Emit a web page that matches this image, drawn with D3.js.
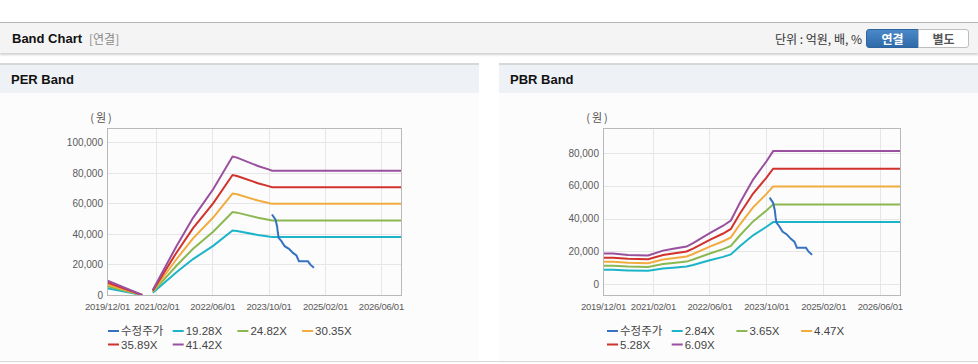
<!DOCTYPE html>
<html>
<head>
<meta charset="utf-8">
<title>Band Chart</title>
<script src="https://d3js.org/d3.v7.min.js"></script>
<style>
  body { margin: 0; width: 978px; height: 364px; position: relative; background: #fff;
         font-family: "Liberation Sans", "Noto Sans CJK KR", sans-serif; overflow: hidden; }
  .top { position: absolute; left: 0; top: 22px; width: 978px; height: 30px; background: #f4f4f4;
         border-top: 1px solid #b5b5b5; box-shadow: 0 2px 2px rgba(0,0,0,0.18); }
  .top .title { position: absolute; left: 12px; top: 8px; font-size: 13px; font-weight: bold; color: #111; }
  .top .sub { position: absolute; left: 89px; top: 8px; font-size: 12px; color: #8a8a8a;
              font-family: "Noto Sans CJK KR", sans-serif; line-height: 16px; }
  .top .unit { position: absolute; right: 116px; top: 8px; font-size: 12px; color: #333;
               font-family: "Noto Sans CJK KR", sans-serif; line-height: 16px; }
  .btns { position: absolute; left: 866px; top: 6px; height: 19px; }
  .btns span { position: absolute; top: 0; height: 17px; line-height: 17px; text-align: center;
               font-size: 12px; font-weight: bold; font-family: "Noto Sans CJK KR", sans-serif; }
  .btns .on { left: 0; width: 51px; background: linear-gradient(#4a88c8, #2f6aa8); color: #fff;
              border: 1px solid #2d64a0; border-radius: 3px 0 0 3px; }
  .btns .off { left: 52px; width: 49px; background: #fff; color: #555;
               border: 1px solid #bdbdbd; border-radius: 0 3px 3px 0; }
  .panel { position: absolute; top: 63px; width: 479px; height: 298px; background: #fcfcfc;
           border-top: 2px solid #d7d7d7; }
  .panel .ph { height: 28px; background: #eef2f7; font-size: 13px; font-weight: bold; color: #111;
               padding-left: 11px; line-height: 29px; }
  .panel svg { position: absolute; left: 0; top: 28px; }
  .bottom { position: absolute; left: 0; top: 361px; width: 978px; height: 1px; background: #d8d8d8; }
  .tick text { font-family: "Liberation Sans", sans-serif; }
</style>
</head>
<body>
<div class="top">
  <span class="title">Band Chart</span>
  <span class="sub">[연결]</span>
  <span class="unit">단위 : 억원, 배, %</span>
  <div class="btns"><span class="on">연결</span><span class="off">별도</span></div>
</div>
<div class="panel" id="per" style="left:0"><div class="ph">PER Band</div></div>
<div class="panel" id="pbr" style="left:499px"><div class="ph">PBR Band</div></div>
<div class="bottom"></div>

<script>
// x axis tick labels (shared)
const tickDates = ['2019/12/01', '2021/02/01', '2022/06/01', '2023/10/01', '2025/02/01', '2026/06/01']

// 수정주가 (adjusted price), same on both charts
const priceDates = ['2023-10-31', '2023-11-30', '2023-12-14', '2023-12-21', '2023-12-28', '2024-01-21',
  '2024-02-18', '2024-03-26', '2024-04-30', '2024-05-30', '2024-06-21', '2024-09-07', '2024-09-28', '2024-10-29']
const priceValues = [52800, 49500, 45100, 40800, 37500, 35300, 32000, 30300, 27600, 25900, 22100, 22100, 19900, 17800]

// PER band (null = gap)
const perLabels = ['19.28X', '24.82X', '30.35X', '35.89X', '41.42X']
const perDates = ['2019-12-01', '2020-10-01', '2020-11-15', '2021-01-01', '2021-07-25', '2021-12-16', '2022-06-08',
  '2022-11-23', '2023-01-01', '2023-07-01', '2023-10-01', '2023-11-01', '2026-12-01']
const per1928 = [4400, 0, null, 1550, 14900, 23550, 32250, 42250, 41950, 39350, 38350, 37950, 37950]
const per2482 = [5700, 0, null, 2000, 19200, 30350, 41500, 54400, 54000, 50700, 49350, 48850, 48850]
const per3035 = [6950, 0, null, 2450, 23450, 37100, 50800, 66500, 66000, 61950, 60350, 59750, 59750]
const per3589 = [8200, 0, null, 2850, 27750, 43850, 60050, 78650, 78050, 73300, 71400, 70650, 70650]
const per4142 = [9500, 0, null, 3300, 32000, 50600, 69300, 90800, 90100, 84600, 82400, 81500, 81500]

// PBR band
const pbrLabels = ['2.84X', '3.65X', '4.47X', '5.28X', '6.09X']
const pbrDates = ['2019-12-01', '2020-02-25', '2020-07-03', '2020-12-22', '2021-04-29', '2021-07-25', '2021-11-17',
  '2022-01-12', '2022-06-04', '2022-09-27', '2022-12-02', '2023-02-17', '2023-06-11', '2023-10-04', '2023-11-30', '2026-12-01']
const pbr284 = [8650, 8650, 8300, 8100, 9500, 10000, 10700, 11650, 14500, 16600, 18100, 23100, 29750, 35000, 37850, 37850]
const pbr365 = [11150, 11150, 10650, 10450, 12250, 12900, 13700, 15000, 18650, 21350, 23250, 29650, 38250, 44950, 48650, 48650]
const pbr447 = [13650, 13650, 13050, 12750, 15000, 15800, 16800, 18350, 22850, 26150, 28500, 36350, 46850, 55050, 59600, 59600]
const pbr528 = [16100, 16100, 15450, 15100, 17700, 18650, 19850, 21650, 26950, 30850, 33650, 42900, 55300, 65000, 70400, 70400]
const pbr609 = [18600, 18600, 17800, 17400, 20400, 21500, 22900, 25000, 31100, 35600, 38800, 49500, 63800, 75000, 81200, 81200]

const colors = ['#3572c0', '#1cb4c8', '#8bb851', '#f1ac3f', '#d1322c', '#9a4f9f']
const parseDay = d3.timeParse('%Y-%m-%d')
const parseTick = d3.timeParse('%Y/%m/%d')

function drawBand(panelId, cfg) {
    const w = 479, h = 270
    const left = cfg.left, top = 35, pw = cfg.width, ph = 167

    const svg = d3.select('#' + panelId).append('svg')
        .attr('width', w)
        .attr('height', h)

    const x = d3.scaleTime()
        .domain([parseDay('2019-12-01'), parseDay('2026-12-01')])
        .range([left, left + pw])
    const y = d3.scaleLinear()
        .domain(cfg.yDomain)
        .range([top + ph, top])

    // grid
    svg.append('g')
        .selectAll('line')
        .data(cfg.yTicks)
        .enter()
        .append('line')
        .attr('x1', left).attr('x2', left + pw)
        .attr('y1', d => Math.round(y(d)) + 0.5).attr('y2', d => Math.round(y(d)) + 0.5)
        .attr('stroke', '#e6e6e6')
    svg.append('g')
        .selectAll('line')
        .data(tickDates)
        .enter()
        .append('line')
        .attr('x1', d => Math.round(x(parseTick(d))) + 0.5).attr('x2', d => Math.round(x(parseTick(d))) + 0.5)
        .attr('y1', top).attr('y2', top + ph)
        .attr('stroke', '#e6e6e6')

    // axes (labels only)
    const yAxis = svg.append('g')
        .attr('transform', `translate(${left},0)`)
        .call(d3.axisLeft(y).tickValues(cfg.yTicks).tickSize(0).tickPadding(4).tickFormat(d3.format(',')))
    yAxis.select('.domain').remove()
    yAxis.selectAll('text').attr('fill', '#5a5a5a').style('font-size', '10px')

    const xAxis = svg.append('g')
        .attr('transform', `translate(0,${top + ph})`)
        .call(d3.axisBottom(x).tickValues(tickDates.map(parseTick)).tickSize(0).tickPadding(8)
            .tickFormat(d3.timeFormat('%Y/%m/%d')))
    xAxis.select('.domain').remove()
    xAxis.selectAll('text').attr('fill', '#5a5a5a').style('font-size', '9.5px').style('letter-spacing', '-0.25px')

    svg.append('text')
        .attr('x', left - 5)
        .attr('y', 29)
        .attr('text-anchor', 'middle')
        .attr('fill', '#555')
        .style('font-size', '11px')
        .style('letter-spacing', '2px')
        .style('font-family', '"Noto Sans CJK KR", sans-serif')
        .text('(원)')

    // clip
    svg.append('clipPath').attr('id', 'clip-' + panelId)
        .append('rect').attr('x', left).attr('y', top).attr('width', pw).attr('height', ph)

    const line = d3.line()
        .defined(d => d.v != null)
        .x(d => x(d.t))
        .y(d => y(d.v))

    const plot = svg.append('g').attr('clip-path', `url(#clip-${panelId})`)

    cfg.bands.forEach((vals, i) => {
        const pts = cfg.dates.map((d, j) => ({ t: parseDay(d), v: vals[j] }))
        plot.append('path')
            .datum(pts)
            .attr('fill', 'none')
            .attr('stroke', colors[i + 1])
            .attr('stroke-width', 2)
            .attr('d', line)
    })

    const pricePts = priceDates.map((d, j) => ({ t: parseDay(d), v: priceValues[j] }))
    plot.append('path')
        .datum(pricePts)
        .attr('fill', 'none')
        .attr('stroke', colors[0])
        .attr('stroke-width', 2)
        .attr('d', line)

    // plot border
    svg.append('rect')
        .attr('x', left + 0.5).attr('y', top + 0.5)
        .attr('width', pw - 1).attr('height', ph)
        .attr('fill', 'none')
        .attr('stroke', '#b9b9b9')

    // legend
    const names = ['수정주가'].concat(cfg.labels)
    const legend = svg.append('g').attr('class', 'legend')
    const item = legend.selectAll('g')
        .data(names)
        .enter()
        .append('g')
        .attr('transform', (d, i) => `translate(${108 + (i % 4) * 64.7},${i < 4 ? 238 : 251.5})`)
    item.append('line')
        .attr('x1', 0).attr('x2', 11)
        .attr('stroke', (d, i) => colors[i])
        .attr('stroke-width', 2)
    item.append('text')
        .attr('x', 13)
        .attr('dy', '0.36em')
        .attr('fill', '#444')
        .style('font-size', '11.5px')
        .style('font-family', (d, i) => i == 0 ? '"Noto Sans CJK KR", sans-serif' : '"Liberation Sans", sans-serif')
        .text(d => d)
}

drawBand('per', {
    left: 107, width: 295,
    yDomain: [0, 109500],
    yTicks: [0, 20000, 40000, 60000, 80000, 100000],
    dates: perDates,
    labels: perLabels,
    bands: [per1928, per2482, per3035, per3589, per4142]
})

drawBand('pbr', {
    left: 104, width: 298,
    yDomain: [-6700, 95300],
    yTicks: [0, 20000, 40000, 60000, 80000],
    dates: pbrDates,
    labels: pbrLabels,
    bands: [pbr284, pbr365, pbr447, pbr528, pbr609]
})
</script>
</body>
</html>
